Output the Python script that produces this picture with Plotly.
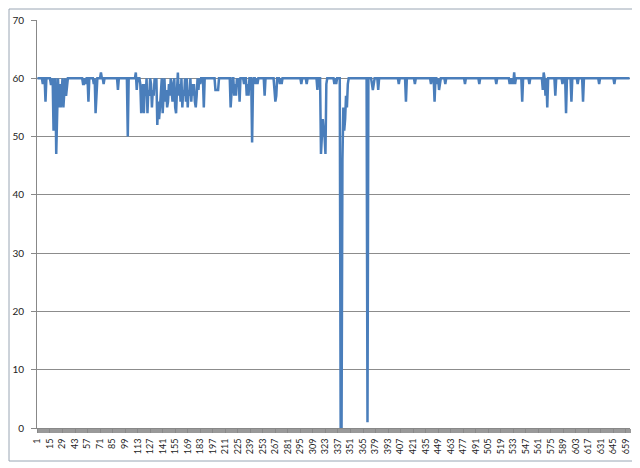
import plotly.graph_objects as go

values = [
    60,60,60,60,60,60,59,60,60,56,60,60,60,60,60,59,59,60,51,59,
    60,47,57,60,55,59,55,58,60,55,58,60,57,59,60,60,60,60,60,60,
    60,60,60,60,60,60,60,60,60,60,60,59,59,60,59,60,60,56,60,60,
    60,60,60,59,60,54,57,60,60,60,60,61,60,60,59,60,60,60,60,60,
    60,60,60,60,60,60,60,60,60,60,58,60,60,60,60,60,60,60,60,60,
    60,50,60,60,60,60,60,60,60,60,61,58,60,60,60,59,54,57,59,54,
    59,57,60,54,58,57,60,59,55,58,57,60,59,60,52,56,53,55,59,60,
    54,59,60,56,58,55,56,59,57,60,58,56,59,60,55,54,58,61,57,59,
    56,60,55,58,57,60,56,60,55,58,57,60,56,59,57,59,56,55,57,60,
    58,60,59,60,60,60,55,60,60,60,60,60,60,60,60,60,60,60,60,58,
    58,58,58,60,60,60,60,60,60,60,60,60,60,60,60,60,55,59,60,60,
    57,59,57,60,59,60,56,60,60,60,60,59,60,60,57,59,57,60,60,60,
    49,59,60,60,59,60,59,60,60,60,60,60,60,60,57,60,60,60,60,60,
    60,60,60,60,60,58,56,57,60,60,60,59,60,59,60,60,60,60,60,60,
    60,60,60,60,60,60,60,60,60,60,60,60,60,60,60,59,60,60,60,60,
    60,59,60,60,60,60,60,60,60,60,60,60,60,58,60,60,60,47,52,53,
    51,50,47,59,60,60,60,60,60,60,60,60,59,60,59,60,60,60,60,0,
    0,46,55,51,53,57,55,59,60,60,60,60,60,60,60,60,60,60,60,60,
    60,60,60,60,60,60,60,60,60,1,60,60,60,60,59,58,59,60,60,60,
    60,58,60,60,60,60,60,60,60,60,60,60,60,60,60,60,60,60,60,60,
    60,60,60,60,59,60,60,60,60,60,60,60,56,60,60,60,60,60,60,60,
    60,60,59,60,60,60,60,60,60,60,60,60,60,60,60,60,60,60,60,60,
    59,60,60,60,56,60,60,59,60,58,59,60,60,60,60,60,59,60,60,60,
    60,60,60,60,60,60,60,60,60,60,60,60,60,60,60,60,60,60,59,60,
    60,60,60,60,60,60,60,60,60,60,60,60,60,60,59,60,60,60,60,60,
    60,60,60,60,60,60,60,60,60,60,60,60,60,59,60,60,60,60,60,60,
    60,60,60,60,60,60,60,60,59,60,59,60,59,61,59,60,60,60,60,60,
    60,60,56,60,60,60,60,60,60,60,59,60,60,60,60,60,60,60,60,60,
    60,60,60,60,60,58,61,60,57,60,55,60,60,60,60,60,60,60,60,57,
    60,60,60,60,60,60,60,59,60,60,60,54,60,60,60,60,60,56,60,60,
    60,60,60,60,59,60,60,60,60,60,56,60,60,60,60,60,60,60,60,60,
    60,60,60,60,60,60,60,60,59,60,60,60,60,60,60,60,60,60,60,60,
    60,60,60,60,60,59,60,60,60,60,60,60,60,60,60,60,60,60,60,60,
    60,60,60,
]
categories = list(range(1, len(values) + 1))
x_tick_labels = [str(c) for c in categories if (c - 1) % 14 == 0]
y_ticks = [0, 10, 20, 30, 40, 50, 60, 70]

# page body has an 8px margin; figure is placed at (8, 8)
OFF = 8
W, H = 640 - OFF, 468 - OFF
L, R, T, B = 37 - OFF, 10, 20 - OFF, 40
pw, ph = W - L - R, H - T - B

def px(x):
    return (x - OFF - L) / pw

def py(y):
    return (H - B - (y - OFF)) / ph

fig = go.Figure()
fig.add_trace(go.Scatter(
    x=categories, y=values, mode="lines",
    line=dict(color="#4a7ebb", width=2.5),
    hoverinfo="skip", showlegend=False,
))

fig.update_layout(
    width=W, height=H,
    margin=dict(l=L, r=R, t=T, b=B, autoexpand=False),
    paper_bgcolor="white", plot_bgcolor="white",
    font=dict(family="Lato, Liberation Sans, sans-serif", color="#222222"),
    xaxis=dict(
        range=[0.5, len(values) + 0.5],
        tickmode="array",
        tickvals=[int(s) for s in x_tick_labels],
        ticktext=x_tick_labels,
        tickangle=-90,
        tickfont=dict(size=9),
        ticks="outside", ticklen=4, tickcolor="#888888", tickwidth=1,
        minor=dict(dtick=1, tick0=0.5, ticks="outside", ticklen=4,
                   tickcolor="#999999", tickwidth=1, showgrid=False),
        showgrid=False, zeroline=False,
        showline=True, linecolor="#888888", linewidth=1,
        ticklabelstandoff=2,
        automargin=False,
    ),
    yaxis=dict(
        range=[0, 70],
        tickvals=y_ticks,
        tickfont=dict(size=10),
        ticks="outside", ticklen=5, tickcolor="#888888",
        showgrid=True, gridcolor="#8c8c8c", gridwidth=1,
        zeroline=False,
        showline=True, linecolor="#888888", linewidth=1,
        ticklabelstandoff=5,
        automargin=False,
    ),
    shapes=[
        dict(type="rect", xref="paper", yref="paper",
             x0=px(9), x1=px(634), y0=py(461), y1=py(9),
             line=dict(color="#9aa6b4", width=1), layer="below"),
    ],
)

fig.write_html("out.html")
